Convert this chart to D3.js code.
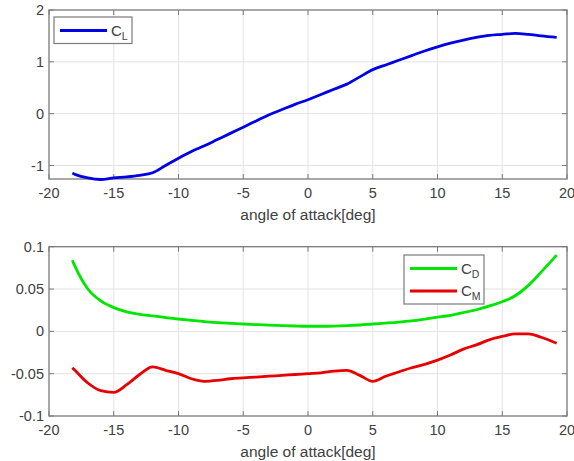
<!DOCTYPE html>
<html>
<head>
<meta charset="utf-8">
<script src="https://cdn.jsdelivr.net/npm/d3@7"></script>
<style>
  body { margin: 0; background: #fff; }
  text { font-family: "Liberation Sans", Arial, sans-serif; fill: #404040; }
</style>
</head>
<body>
<svg id="chart" width="574" height="461"></svg>
<script>
// angle of attack [deg]
var alpha = [-18.2, -18, -17, -16, -15, -14, -13, -12, -11, -10, -9, -8, -7, -6, -5, -4, -3, -2, -1,
  0, 1, 2, 3, 4, 5, 6, 7, 8, 9, 10, 11, 12, 13, 14, 15, 16, 17, 18, 19.2];

var cl = [-1.15, -1.17, -1.24, -1.27, -1.24, -1.22, -1.19, -1.14, -1.00, -0.86, -0.73, -0.62, -0.50, -0.38, -0.26,
  -0.14, -0.02, 0.08, 0.18, 0.27, 0.37, 0.47, 0.57, 0.71, 0.85, 0.94, 1.03, 1.12, 1.21, 1.29, 1.36, 1.42,
  1.47, 1.51, 1.53, 1.55, 1.53, 1.50, 1.47];

var cd = [0.084, 0.077, 0.050, 0.036, 0.028, 0.023, 0.020, 0.0183, 0.0163, 0.0146, 0.0130, 0.0115, 0.0104,
  0.0095, 0.0087, 0.0080, 0.0073, 0.0068, 0.0063, 0.0060, 0.0060, 0.0062, 0.0067, 0.0075, 0.0087, 0.0098,
  0.0110, 0.0125, 0.0145, 0.0167, 0.0190, 0.0222, 0.0255, 0.0300, 0.0350, 0.0420, 0.0540, 0.0700, 0.0900];

var cm = [-0.043, -0.046, -0.061, -0.070, -0.072, -0.063, -0.051, -0.042, -0.046, -0.050, -0.056, -0.059,
  -0.058, -0.056, -0.055, -0.054, -0.053, -0.052, -0.051, -0.050, -0.049, -0.047, -0.046, -0.052, -0.059,
  -0.053, -0.048, -0.043, -0.039, -0.034, -0.028, -0.021, -0.016, -0.010, -0.006, -0.003, -0.003, -0.007,
  -0.014];

var xTicks = [-20, -15, -10, -5, 0, 5, 10, 15, 20];
var clTicks = [-1, 0, 1, 2];
var cdmTicks = [-0.1, -0.05, 0, 0.05, 0.1];

var svg = d3.select("#chart");
var left = 49, right = 567;
var boxColor = "#7a7a7a", gridColor = "#e3e3e3";

var x = d3.scaleLinear().domain([-20, 20]).range([left, right]);

function panel(top, bottom, ydomain, yticks, yfmt) {
  var y = d3.scaleLinear().domain(ydomain).range([bottom, top]);
  var g = svg.append("g");
  // grid
  g.selectAll("line.gx").data(xTicks.slice(1, -1)).enter().append("line")
    .attr("x1", d => x(d)).attr("x2", d => x(d)).attr("y1", top).attr("y2", bottom)
    .attr("stroke", gridColor).attr("stroke-width", 1);
  g.selectAll("line.gy").data(yticks.filter(d => y(d) > top + 1 && y(d) < bottom - 1)).enter().append("line")
    .attr("x1", left).attr("x2", right).attr("y1", d => y(d)).attr("y2", d => y(d))
    .attr("stroke", gridColor).attr("stroke-width", 1);
  // inward ticks all round
  var tl = 5;
  xTicks.forEach(function(d) {
    g.append("line").attr("x1", x(d)).attr("x2", x(d)).attr("y1", bottom).attr("y2", bottom - tl).attr("stroke", boxColor);
    g.append("line").attr("x1", x(d)).attr("x2", x(d)).attr("y1", top).attr("y2", top + tl).attr("stroke", boxColor);
  });
  yticks.forEach(function(d) {
    g.append("line").attr("x1", left).attr("x2", left + tl).attr("y1", y(d)).attr("y2", y(d)).attr("stroke", boxColor);
    g.append("line").attr("x1", right).attr("x2", right - tl).attr("y1", y(d)).attr("y2", y(d)).attr("stroke", boxColor);
  });
  g.append("rect").attr("x", left).attr("y", top).attr("width", right - left).attr("height", bottom - top)
    .attr("fill", "none").attr("stroke", boxColor).attr("stroke-width", 1.3);
  // labels
  g.selectAll("text.xt").data(xTicks).enter().append("text")
    .attr("x", d => x(d)).attr("y", bottom + 19).attr("text-anchor", "middle")
    .attr("font-size", 14.5).text(d => d);
  g.selectAll("text.yt").data(yticks).enter().append("text")
    .attr("x", left - 5).attr("y", d => y(d) + 5).attr("text-anchor", "end")
    .attr("font-size", 14.5).text(yfmt);
  g.append("text").attr("x", x(0)).attr("y", bottom + 41).attr("text-anchor", "middle")
    .attr("font-size", 15.5).text("angle of attack[deg]");
  return y;
}

function curve(y, vals, color) {
  var line = d3.line().x((d, i) => x(alpha[i])).y(d => y(d)).curve(d3.curveMonotoneX);
  svg.append("path").datum(vals).attr("d", line).attr("fill", "none")
    .attr("stroke", color).attr("stroke-width", 2.8).attr("stroke-linejoin", "round");
}

function legend(bx, by, w, items) {
  var g = svg.append("g");
  g.append("rect").attr("x", bx).attr("y", by).attr("width", w).attr("height", items.length * 22.5 + 4)
    .attr("fill", "#fff").attr("stroke", boxColor).attr("stroke-width", 1.2);
  items.forEach(function(it, i) {
    var ly = by + 13.5 + i * 22.5;
    g.append("line").attr("x1", bx + 6).attr("x2", bx + 53).attr("y1", ly).attr("y2", ly)
      .attr("stroke", it.color).attr("stroke-width", 2.8);
    var t = g.append("text").attr("x", bx + 57).attr("y", ly + 5).attr("font-size", 15).attr("fill", "#222");
    t.append("tspan").text("C");
    t.append("tspan").attr("font-size", 10.5).attr("dy", 4).text(it.sub);
  });
}

var y1 = panel(10, 179, [-1.26, 2], clTicks, d => d);
curve(y1, cl, "#0000e6");
legend(54, 17, 78, [{ color: "#0000e6", sub: "L" }]);

var y2 = panel(246.7, 416, [-0.1, 0.1], cdmTicks, d => d);
curve(y2, cd, "#00e600");
curve(y2, cm, "#e60000");
legend(404, 255, 80, [{ color: "#00e600", sub: "D" }, { color: "#e60000", sub: "M" }]);
</script>
</body>
</html>
